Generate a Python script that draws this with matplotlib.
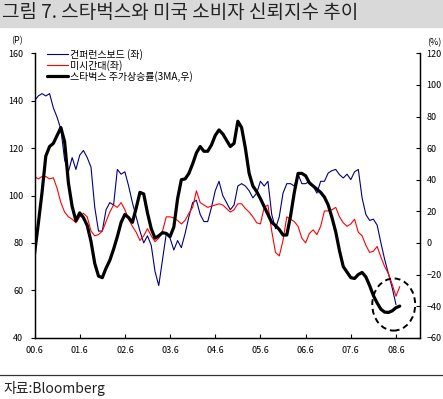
import numpy as np
import matplotlib
matplotlib.use('Agg')
from matplotlib import pyplot as plt
from matplotlib.patches import Ellipse, Rectangle
from matplotlib.lines import Line2D

plt.rcParams['font.family'] = ['Noto Sans CJK KR', 'DejaVu Sans']

#' monthly data, first point = 2000.6
conf_board = [140, 142, 143, 142, 143, 137, 133, 128, 115, 110,
              116, 111, 117, 119, 116, 112, 95, 85, 85, 94,
              97, 96, 111, 109, 110, 104, 97, 91, 85, 80,
              83, 79, 68, 62, 73, 84, 82, 77, 81, 78,
              84, 91, 97, 98, 92, 89, 89, 95, 102, 106,
              100, 97, 94, 96, 104, 105, 104, 102, 99, 101,
              106, 104, 106, 92, 86, 91, 101, 105, 105, 104,
              109, 105, 105, 106, 104, 101, 106, 106, 109.5, 110.5,
              111, 108.8, 107.4, 109, 106.7, 110, 111, 99, 92, 89.5,
              90, 87.5, 80, 73, 67, 61, 54]

michigan = [108, 107, 108, 108, 107, 107.5, 103, 97, 93, 91,
            90, 88.5, 91, 92.5, 91, 85, 83, 83.5, 85, 89,
            93, 96, 95, 97, 94, 90, 87, 84.5, 81, 83,
            86, 83, 80.5, 82, 85, 91, 91, 90.5, 89.5, 88,
            89.5, 92.5, 95, 102, 97, 96, 95, 95.5, 96, 96.5,
            96, 94.5, 93, 94, 96.5, 96.5, 94.5, 93, 91, 88.5,
            88, 95, 96, 85, 76, 74.5, 81, 91, 90, 89,
            87, 82, 80, 84, 85.5, 83.5, 87, 93.5, 93.5, 94,
            95, 91, 88.5, 87, 88, 90, 84.5, 83, 79, 76,
            76.5, 78.5, 74, 70, 67, 62.5, 57.5, 61.5]

sbux_3ma = [-7, 12, 32, 55, 61, 63, 68, 73, 64, 38,
            23, 14, 19, 16, 11, 1, -13, -21, -22, -16,
            -11, -4, 4, 13, 18, 16, 13, 22, 32, 31,
            19, 9, 3, 4.5, 6.5, 6, 4, 10, 28, 40,
            40.5, 44, 50, 57, 61, 58, 58, 62, 68, 71.5,
            69, 65, 61, 63, 77, 73, 60, 44, 36, 32.5,
            28, 23, 18, 13, 11, 8.5, 5, 5, 17, 32,
            44, 44, 42.5, 38, 36, 34, 32, 29, 24, 16,
            7, -5, -15, -18.5, -22, -22.5, -20, -18.7, -21.5, -27,
            -33.3, -38, -42, -43.8, -44, -43, -41, -40]

tick_pos = [0, 12, 24, 36, 48, 60, 72, 84, 96]
tick_labels = ['00.6', '01.6', '02.6', '03.6', '04.6', '05.6', '06.6', '07.6', '08.6']
series_names = ['컨퍼런스보드 (좌)', '미시간대(좌)', '스타벅스 주가상승률(3MA,우)']

fig = plt.figure(figsize=(4.43, 3.99), dpi=100)
ax = fig.add_axes([0.0779, 0.1536, 0.8695, 0.7128])
ax2 = ax.twinx()

l1, = ax.plot(np.arange(len(conf_board)), conf_board, color='#000080', lw=0.8)
l2, = ax.plot(np.arange(len(michigan)), michigan, color='#ff0000', lw=0.8)
l3, = ax2.plot(np.arange(len(sbux_3ma)), sbux_3ma, color='black', lw=2.3, solid_capstyle='round')

#' dashed circle around the latest values
ell = Ellipse((95.4, -39), 11.4, 33, fill=False, ec='black', lw=1.4, ls=(0, (3, 2)))
ax2.add_patch(ell)

ax.set_xlim(0, 102.3)
ax.set_ylim(40, 160)
ax.set_yticks(range(40, 161, 20))
ax2.set_ylim(-60, 120)
ax2.set_yticks(range(-60, 121, 20))
ax.set_xticks(tick_pos)
ax.set_xticklabels(tick_labels)

for a in (ax, ax2):
    a.spines['top'].set_visible(False)
    for s in a.spines.values():
        s.set_linewidth(0.9)
ax.tick_params(axis='y', direction='out', length=3, width=0.8, pad=5, labelsize=6.5)
ax.tick_params(axis='x', direction='in', length=3, width=0.8, pad=6, labelsize=6.5)
ax2.tick_params(axis='y', direction='in', length=3, width=0.8, pad=5, labelsize=6.5)

ax2.legend([l1, l2, l3], series_names, loc='upper left', bbox_to_anchor=(0.032, 1.016),
           frameon=False, fontsize=7.2, handlelength=2.1, handletextpad=0.2,
           labelspacing=0, borderpad=0, borderaxespad=0)

fig.text(11 / 443, 1 - 41 / 399, '(P)', fontsize=6.5, va='center')
fig.text(427 / 443, 1 - 43 / 399, '(%)', fontsize=6.5, va='center')

#' title band
fig.patches.append(Rectangle((0, 1 - 27 / 399), 1, 27 / 399, transform=fig.transFigure,
                             color='#d9d9d9', zorder=0))
fig.text(2 / 443, 1 - 13 / 399, '그림 7. 스타벅스와 미국 소비자 신뢰지수 추이',
         fontsize=13.7, va='center', color='#222222')

fig.lines.append(Line2D([0, 1], [1 - 375 / 399] * 2, transform=fig.transFigure,
                        color='#333333', lw=0.9))
fig.text(3 / 443, 1 - 388 / 399, '자료:Bloomberg', fontsize=10, va='center', color='#222222')

fig.savefig('out.png', dpi=100)
